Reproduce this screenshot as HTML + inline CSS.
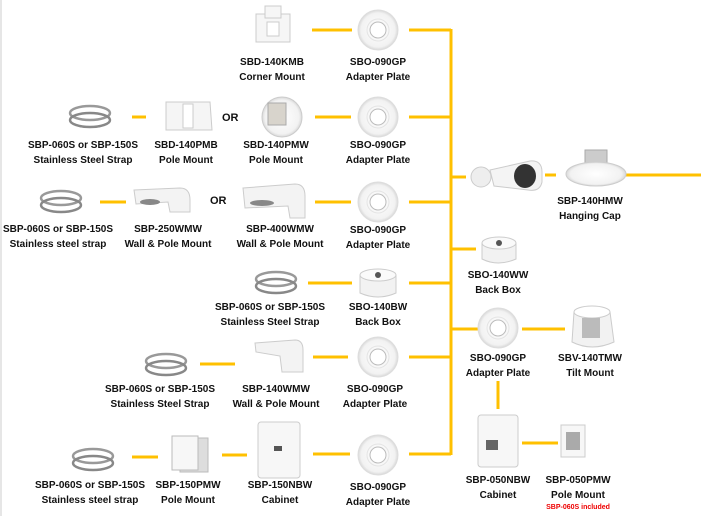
<!DOCTYPE html>
<html><head><meta charset="utf-8"><style>
body{margin:0;width:701px;height:516px;background:#fff;position:relative;overflow:hidden;font-family:"Liberation Sans",sans-serif}
.l{position:absolute;font-weight:bold;font-size:10px;line-height:15px;color:#111;text-align:center;white-space:nowrap;transform:translateX(-50%)}
.or{position:absolute;font-weight:bold;font-size:11px;color:#111}
svg{position:absolute;left:0;top:0}
</style></head><body>
<svg width="701" height="516">
<defs>
<radialGradient id="pg" cx="50%" cy="50%" r="50%"><stop offset="0" stop-color="#fff"/><stop offset="0.85" stop-color="#f2f2f2"/><stop offset="1" stop-color="#d8d8d8"/></radialGradient>
<g id="plate"><circle r="20" fill="url(#pg)" stroke="#ddd"/><circle r="8" fill="#fff" stroke="#bbb"/><circle r="11" fill="none" stroke="#e4e4e4"/></g>
<g id="strap"><ellipse cx="0" cy="-4" rx="20" ry="7" fill="none" stroke="#999" stroke-width="2.5"/><ellipse cx="0" cy="3" rx="20" ry="7" fill="none" stroke="#888" stroke-width="2.5"/></g>
</defs>
<rect x="0" y="0" width="2" height="516" fill="#e6e6e6"/>
<g stroke="#FFC000" stroke-width="3" fill="none">
<line x1="451" y1="29" x2="451" y2="455"/>
<line x1="409" y1="30" x2="451" y2="30"/><line x1="312" y1="30" x2="352" y2="30"/>
<line x1="409" y1="117" x2="451" y2="117"/><line x1="315" y1="117" x2="351" y2="117"/><line x1="132" y1="117" x2="146" y2="117"/>
<line x1="409" y1="202" x2="451" y2="202"/><line x1="315" y1="202" x2="351" y2="202"/><line x1="100" y1="202" x2="126" y2="202"/>
<line x1="409" y1="283" x2="451" y2="283"/><line x1="308" y1="283" x2="352" y2="283"/>
<line x1="409" y1="357" x2="451" y2="357"/><line x1="313" y1="357" x2="348" y2="357"/><line x1="200" y1="364" x2="235" y2="364"/>
<line x1="409" y1="454" x2="451" y2="454"/><line x1="313" y1="454" x2="350" y2="454"/><line x1="222" y1="455" x2="247" y2="455"/><line x1="132" y1="457" x2="158" y2="457"/>
<line x1="451" y1="177" x2="466" y2="177"/><line x1="545" y1="175" x2="556" y2="175"/><line x1="626" y1="175" x2="701" y2="175"/>
<line x1="451" y1="249" x2="476" y2="249"/>
<line x1="451" y1="329" x2="480" y2="329"/><line x1="522" y1="329" x2="565" y2="329"/>
<line x1="498" y1="381" x2="498" y2="409"/>
<line x1="522" y1="443" x2="558" y2="443"/>
</g>
<use href="#plate" x="378" y="30"/><use href="#plate" x="378" y="117"/><use href="#plate" x="378" y="202"/>
<use href="#plate" x="378" y="357"/><use href="#plate" x="378" y="455"/><use href="#plate" x="498" y="328"/>
<use href="#strap" x="90" y="117"/><use href="#strap" x="61" y="202"/><use href="#strap" x="276" y="283"/>
<use href="#strap" x="166" y="365"/><use href="#strap" x="93" y="460"/>
<g fill="#f6f6f6" stroke="#ccc"><rect x="256" y="14" width="34" height="28"/><rect x="265" y="6" width="16" height="12"/>
<rect x="267" y="22" width="12" height="14" fill="#fff"/></g>
<g fill="#f5f5f5" stroke="#ccc"><path d="M166 102 L210 102 L212 130 L166 130 Z"/><rect x="183" y="104" width="10" height="24" fill="#fff"/></g>
<circle cx="282" cy="117" r="20" fill="url(#pg)" stroke="#ccc"/><rect x="268" y="103" width="18" height="22" fill="#d8d4cc" stroke="#aaa"/>
<g fill="#f3f3f3" stroke="#ccc"><path d="M134 190 L180 188 Q190 188 190 200 L190 212 L170 212 L168 202 L136 204 Z"/>
<path d="M243 188 L295 184 Q305 184 305 196 L305 218 L290 218 L288 206 L245 208 Z"/>
<path d="M255 343 L295 340 Q303 340 303 350 L303 372 L282 372 L280 356 L256 352 Z"/></g>
<ellipse cx="150" cy="202" rx="10" ry="3" fill="#888"/><ellipse cx="262" cy="203" rx="12" ry="3" fill="#888"/>
<g fill="#f2f2f2" stroke="#ccc"><path d="M360 275 v18 q18 8 36 0 v-18 z"/><ellipse cx="378" cy="275" rx="18" ry="6" fill="#fafafa"/>
<path d="M482 243 v16 q16 8 34 0 v-16 z"/><ellipse cx="499" cy="243" rx="17" ry="6" fill="#fafafa"/></g>
<circle cx="378" cy="275" r="3" fill="#555"/><circle cx="499" cy="243" r="3" fill="#555"/>
<g stroke="#bbb"><rect x="180" y="438" width="28" height="34" fill="#ddd"/><rect x="172" y="436" width="26" height="34" fill="#f7f7f7"/></g>
<g fill="#f7f7f7" stroke="#ccc"><rect x="258" y="422" width="42" height="56" rx="3"/><rect x="478" y="415" width="40" height="52" rx="3"/>
<rect x="561" y="425" width="24" height="32"/></g>
<rect x="274" y="446" width="8" height="5" fill="#555"/><rect x="486" y="440" width="12" height="10" fill="#666"/>
<rect x="566" y="432" width="14" height="18" fill="#aaa"/>
<circle cx="481" cy="177" r="10" fill="#eee" stroke="#ccc"/>
<path d="M490 170 L530 161 Q542 160 542 172 L542 182 Q540 192 528 190 L494 186 Z" fill="#f4f4f4" stroke="#ccc"/>
<ellipse cx="525" cy="176" rx="11" ry="12" fill="#333"/>
<rect x="585" y="150" width="22" height="14" fill="#ccc" stroke="#aaa"/>
<ellipse cx="596" cy="174" rx="30" ry="12" fill="url(#pg)" stroke="#ccc"/>
<path d="M574 312 L610 312 L614 342 Q592 352 572 342 Z" fill="#f2f2f2" stroke="#ccc"/>
<ellipse cx="592" cy="312" rx="18" ry="6" fill="#fff" stroke="#ccc"/><rect x="582" y="318" width="18" height="20" fill="#bbb"/>
</svg>
<div class="l" style="left:272px;top:55px">SBD-140KMB<br>Corner Mount</div>
<div class="l" style="left:378px;top:55px">SBO-090GP<br>Adapter Plate</div>
<div class="l" style="left:83px;top:138px">SBP-060S or SBP-150S<br>Stainless Steel Strap</div>
<div class="l" style="left:186px;top:138px">SBD-140PMB<br>Pole Mount</div>
<div class="or" style="left:222px;top:112px">OR</div>
<div class="l" style="left:276px;top:138px">SBD-140PMW<br>Pole Mount</div>
<div class="l" style="left:378px;top:138px">SBO-090GP<br>Adapter Plate</div>
<div class="l" style="left:58px;top:222px">SBP-060S or SBP-150S<br>Stainless steel strap</div>
<div class="l" style="left:168px;top:222px">SBP-250WMW<br>Wall &amp; Pole Mount</div>
<div class="or" style="left:210px;top:195px">OR</div>
<div class="l" style="left:280px;top:222px">SBP-400WMW<br>Wall &amp; Pole Mount</div>
<div class="l" style="left:378px;top:223px">SBO-090GP<br>Adapter Plate</div>
<div class="l" style="left:270px;top:300px">SBP-060S or SBP-150S<br>Stainless Steel Strap</div>
<div class="l" style="left:378px;top:300px">SBO-140BW<br>Back Box</div>
<div class="l" style="left:160px;top:382px">SBP-060S or SBP-150S<br>Stainless Steel Strap</div>
<div class="l" style="left:276px;top:382px">SBP-140WMW<br>Wall &amp; Pole Mount</div>
<div class="l" style="left:375px;top:382px">SBO-090GP<br>Adapter Plate</div>
<div class="l" style="left:90px;top:478px">SBP-060S or SBP-150S<br>Stainless steel strap</div>
<div class="l" style="left:188px;top:478px">SBP-150PMW<br>Pole Mount</div>
<div class="l" style="left:280px;top:478px">SBP-150NBW<br>Cabinet</div>
<div class="l" style="left:378px;top:480px">SBO-090GP<br>Adapter Plate</div>
<div class="l" style="left:590px;top:194px">SBP-140HMW<br>Hanging Cap</div>
<div class="l" style="left:498px;top:268px">SBO-140WW<br>Back Box</div>
<div class="l" style="left:498px;top:351px">SBO-090GP<br>Adapter Plate</div>
<div class="l" style="left:590px;top:351px">SBV-140TMW<br>Tilt Mount</div>
<div class="l" style="left:498px;top:473px">SBP-050NBW<br>Cabinet</div>
<div class="l" style="left:578px;top:473px">SBP-050PMW<br>Pole Mount</div>
<div class="l" style="left:578px;top:503px;font-size:7px;line-height:9px;color:#e00">SBP-060S included</div>
</body></html>
